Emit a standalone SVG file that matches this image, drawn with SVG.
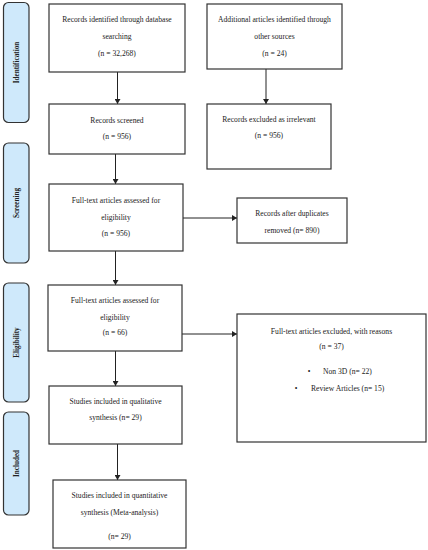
<svg xmlns="http://www.w3.org/2000/svg" width="428" height="550" viewBox="0 0 428 550">
<style>
.bg{fill:#fff}
.box{fill:#fff;stroke:#333;stroke-width:1.2}
.side{fill:#cfe9fb;stroke:#333;stroke-width:1.2}
.t{font-family:"Liberation Serif","Times New Roman",serif;font-size:7.6px;fill:#222;text-anchor:middle}
.s{font-family:"Liberation Serif","Times New Roman",serif;font-size:7.2px;font-weight:bold;fill:#222;text-anchor:middle}
.ln{stroke:#222;stroke-width:1;fill:none}
</style>
<defs>
<marker id="ah" markerWidth="6" markerHeight="6" refX="5" refY="3" orient="auto" markerUnits="userSpaceOnUse">
<path d="M0,0 L5,3 L0,6 Z" fill="#222"/>
</marker>
</defs>
<rect class="bg" x="0" y="0" width="428" height="550"/>

<g id="side-identification">
<rect class="side" x="3.5" y="2.5" width="25.5" height="120" rx="5"/>
<text class="s" transform="translate(18.5,62.5) rotate(-90)">Identification</text>
</g>
<g id="side-screening">
<rect class="side" x="3.5" y="143" width="25.5" height="120" rx="5"/>
<text class="s" transform="translate(18.5,203) rotate(-90)">Screening</text>
</g>
<g id="side-eligibility">
<rect class="side" x="3.5" y="283" width="25.5" height="119" rx="5"/>
<text class="s" transform="translate(18.5,342.5) rotate(-90)">Eligibility</text>
</g>
<g id="side-included">
<rect class="side" x="3.5" y="412" width="25.5" height="103" rx="5"/>
<text class="s" transform="translate(18.5,463.5) rotate(-90)">Included</text>
</g>

<g id="connectors">
<line class="ln" x1="117.5" y1="72" x2="117.5" y2="104" marker-end="url(#ah)"/>
<line class="ln" x1="266" y1="69" x2="266" y2="104" marker-end="url(#ah)"/>
<line class="ln" x1="115.5" y1="154" x2="115.5" y2="184" marker-end="url(#ah)"/>
<line class="ln" x1="183" y1="218" x2="237" y2="218" marker-end="url(#ah)"/>
<line class="ln" x1="115.5" y1="251" x2="115.5" y2="285" marker-end="url(#ah)"/>
<line class="ln" x1="182" y1="334" x2="237" y2="334" marker-end="url(#ah)"/>
<line class="ln" x1="115.5" y1="351" x2="115.5" y2="386" marker-end="url(#ah)"/>
<line class="ln" x1="117.5" y1="444" x2="117.5" y2="480" marker-end="url(#ah)"/>
</g>

<g id="records-identified">
<rect class="box" x="49" y="4" width="136" height="68"/>
<text class="t" x="117" y="22">Records identified through database</text>
<text class="t" x="117" y="39">searching</text>
<text class="t" x="117" y="56">(n = 32,268)</text>
</g>
<g id="additional-articles">
<rect class="box" x="207" y="4" width="135" height="65"/>
<text class="t" x="274.5" y="22">Additional articles identified through</text>
<text class="t" x="274.5" y="39">other sources</text>
<text class="t" x="274.5" y="56">(n = 24)</text>
</g>
<g id="records-screened">
<rect class="box" x="49" y="104" width="136" height="50"/>
<text class="t" x="117" y="123">Records screened</text>
<text class="t" x="117" y="139">(n = 956)</text>
</g>
<g id="records-excluded">
<rect class="box" x="207" y="104" width="124" height="65"/>
<text class="t" x="269" y="122">Records excluded as irrelevant</text>
<text class="t" x="269" y="138">(n = 956)</text>
</g>
<g id="fulltext-1">
<rect class="box" x="49" y="184" width="134" height="67"/>
<text class="t" x="116" y="203">Full-text articles assessed for</text>
<text class="t" x="116" y="220">eligibility</text>
<text class="t" x="116" y="236">(n = 956)</text>
</g>
<g id="after-duplicates">
<rect class="box" x="237" y="198" width="110" height="45"/>
<text class="t" x="292" y="216">Records after duplicates</text>
<text class="t" x="292" y="233">removed (n= 890)</text>
</g>
<g id="fulltext-2">
<rect class="box" x="48" y="285" width="134" height="66"/>
<text class="t" x="115" y="303">Full-text articles assessed for</text>
<text class="t" x="115" y="320">eligibility</text>
<text class="t" x="115" y="335">(n = 66)</text>
</g>
<g id="fulltext-excluded">
<rect class="box" x="237" y="314" width="189" height="128"/>
<text class="t" x="331.5" y="334">Full-text articles excluded, with reasons</text>
<text class="t" x="331.5" y="349">(n = 37)</text>
<text class="t" x="309" y="374">•</text>
<text class="t" x="323" y="374" style="text-anchor:start">Non 3D (n= 22)</text>
<text class="t" x="296" y="391">•</text>
<text class="t" x="311" y="391" style="text-anchor:start">Review Articles (n= 15)</text>
</g>
<g id="qualitative">
<rect class="box" x="49" y="386" width="133" height="58"/>
<text class="t" x="115.5" y="404">Studies included in qualitative</text>
<text class="t" x="115.5" y="420">synthesis (n= 29)</text>
</g>
<g id="quantitative">
<rect class="box" x="53" y="480" width="133" height="68"/>
<text class="t" x="119.5" y="498">Studies included in quantitative</text>
<text class="t" x="119.5" y="515">synthesis (Meta-analysis)</text>
<text class="t" x="119.5" y="539">(n= 29)</text>
</g>
</svg>
